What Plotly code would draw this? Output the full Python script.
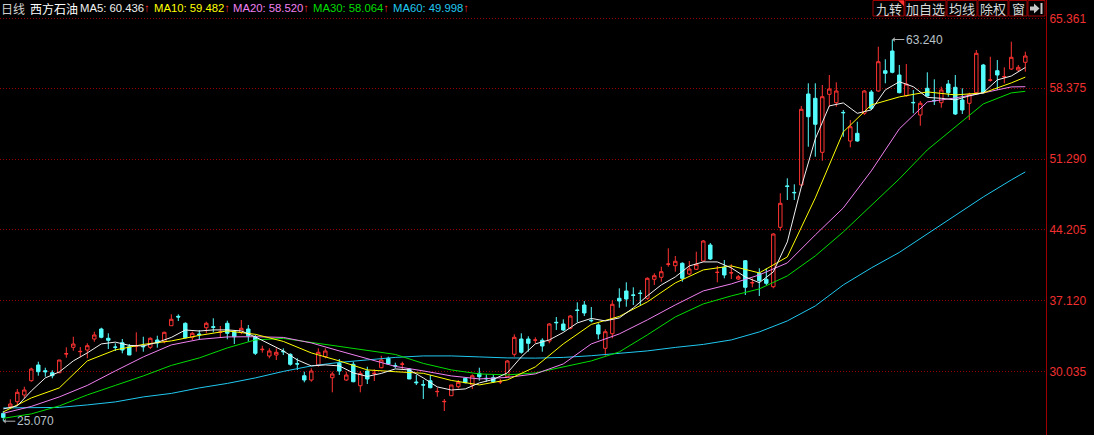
import plotly.graph_objects as go

# ---------------- data ----------------
opens = [25.85, 26.52, 27.02, 27.69, 29.12, 30.69, 30.12, 29.92, 29.92, 31.79,
         32.46, 32.02, 32.19, 33.29, 34.29, 33.36, 32.49, 32.92, 32.52, 32.56,
         32.56, 32.46, 33.19, 33.02, 34.62, 35.56, 34.86, 33.46, 33.79, 34.42,
         34.52, 33.95, 34.86, 34.02, 33.96, 34.29, 33.52, 32.22, 31.59, 31.69,
         32.06, 31.76, 30.82, 29.62, 29.19, 30.69, 31.52, 29.42, 30.86, 29.19,
         30.76, 28.62, 30.09, 29.82, 30.42, 31.36, 30.62, 30.76, 30.29, 28.99,
         28.72, 29.12, 28.02, 27.02, 27.62, 28.52, 29.36, 28.69, 29.86, 29.36,
         29.42, 29.00, 29.52, 31.76, 33.29, 33.29, 33.17, 33.16, 33.09, 34.96,
         34.79, 34.36, 36.19, 36.69, 35.16, 34.69, 32.36, 33.82, 37.36, 38.09,
         37.70, 37.88, 37.36, 39.26, 39.46, 40.76, 40.62, 40.86, 39.79, 40.26,
         41.09, 42.69, 39.94, 40.46, 39.90, 39.29, 41.12, 38.90, 39.86, 39.26,
         38.52, 44.46, 48.60, 47.95, 48.69, 57.79, 57.36, 51.96, 57.76, 56.92,
         55.95, 53.09, 53.86, 55.86, 57.99, 58.09, 60.12, 62.09, 59.69, 57.62,
         56.95, 55.69, 58.36, 57.15, 56.92, 58.79, 58.46, 57.19, 56.86, 57.92,
         60.69, 59.15, 60.12, 59.50, 60.29, 60.19, 60.96]
highs = [26.10, 27.26, 28.29, 28.52, 30.42, 31.02, 30.42, 30.16, 31.19, 32.46,
         33.52, 32.49, 32.86, 34.02, 34.42, 33.86, 32.86, 33.29, 32.79, 33.96,
         33.52, 33.46, 33.62, 34.02, 35.76, 35.76, 34.96, 34.02, 34.19, 35.02,
         35.36, 34.59, 35.12, 34.19, 35.19, 34.69, 33.69, 32.62, 32.36, 32.36,
         32.36, 31.86, 31.36, 30.02, 30.36, 32.36, 32.36, 30.02, 31.29, 30.02,
         31.02, 30.09, 30.52, 30.26, 31.62, 31.52, 30.92, 31.02, 30.36, 29.69,
         29.19, 29.69, 28.42, 27.29, 28.69, 29.19, 29.42, 29.76, 30.42, 29.76,
         29.69, 29.29, 31.19, 33.76, 33.86, 33.56, 33.46, 33.36, 34.89, 35.49,
         35.26, 35.69, 36.96, 37.09, 36.49, 34.86, 34.26, 37.16, 38.36, 38.96,
         38.46, 38.19, 39.46, 39.86, 40.52, 42.36, 41.59, 40.96, 41.09, 42.02,
         43.19, 42.89, 40.59, 41.19, 40.76, 39.69, 41.19, 39.36, 40.36, 40.36,
         43.86, 47.86, 49.36, 48.76, 56.59, 58.86, 58.86, 58.69, 59.69, 58.96,
         56.19, 55.19, 55.02, 58.19, 58.19, 62.52, 61.26, 63.24, 60.69, 60.79,
         58.19, 57.09, 59.96, 59.26, 58.52, 59.19, 59.69, 58.36, 57.92, 62.19,
         60.80, 61.52, 61.19, 60.46, 63.02, 60.69, 62.02]
lows = [25.07, 26.36, 26.69, 27.36, 29.02, 29.62, 29.52, 29.36, 29.86, 31.42,
        32.12, 31.46, 31.36, 33.02, 33.36, 32.29, 32.09, 31.86, 31.69, 32.02,
        32.02, 32.29, 32.42, 32.86, 34.62, 35.09, 33.36, 33.19, 33.19, 33.86,
        33.96, 33.42, 33.26, 32.79, 33.76, 33.02, 31.69, 31.92, 31.36, 31.19,
        31.69, 30.62, 30.19, 28.96, 29.02, 30.52, 31.36, 27.96, 29.69, 29.09,
        28.96, 27.96, 28.79, 29.09, 30.36, 30.69, 30.36, 30.26, 29.29, 28.69,
        27.29, 28.36, 27.52, 26.09, 27.62, 28.36, 28.86, 28.29, 29.12, 29.02,
        28.92, 28.79, 29.52, 31.52, 31.82, 32.02, 32.86, 32.02, 32.86, 34.19,
        34.09, 34.26, 34.96, 35.59, 34.96, 33.26, 31.62, 33.36, 36.42, 36.52,
        36.69, 36.59, 37.20, 38.69, 39.02, 40.52, 40.02, 39.02, 39.69, 40.19,
        40.99, 41.19, 38.96, 39.36, 39.29, 39.19, 37.69, 38.46, 37.59, 38.69,
        38.36, 44.12, 47.19, 47.19, 48.52, 52.52, 51.52, 51.12, 56.52, 56.52,
        53.52, 52.46, 53.02, 55.69, 56.19, 58.02, 58.86, 59.86, 57.86, 57.52,
        55.86, 54.62, 57.52, 56.69, 56.42, 57.52, 55.69, 55.79, 55.19, 57.86,
        57.86, 59.02, 58.19, 58.86, 60.19, 60.02, 60.02]
closes = [25.45, 26.79, 27.96, 28.19, 30.29, 30.02, 30.02, 29.62, 31.19, 31.82,
          32.79, 32.05, 32.62, 33.69, 33.46, 33.16, 32.46, 32.19, 31.69, 32.59,
          32.52, 33.36, 32.89, 33.96, 35.26, 35.49, 33.42, 33.86, 33.72, 34.86,
          34.46, 33.99, 33.86, 33.52, 34.36, 33.62, 31.86, 32.26, 32.09, 31.96,
          32.02, 30.76, 30.79, 29.19, 30.09, 31.96, 32.09, 29.79, 30.09, 29.69,
          29.02, 29.86, 29.29, 29.86, 31.19, 30.79, 30.59, 30.79, 29.29, 28.92,
          28.69, 28.42, 28.05, 27.05, 28.69, 28.96, 28.92, 29.62, 29.52, 29.32,
          29.02, 29.02, 31.09, 33.46, 31.96, 32.86, 33.19, 32.59, 34.79, 34.92,
          34.19, 35.59, 36.15, 35.89, 35.12, 33.79, 34.02, 36.76, 37.09, 37.29,
          37.66, 37.85, 39.36, 39.62, 40.02, 40.79, 41.06, 39.36, 40.29, 40.76,
          43.09, 41.29, 39.96, 39.69, 39.92, 39.52, 38.46, 38.93, 39.12, 38.86,
          43.79, 46.86, 48.55, 47.92, 56.26, 55.52, 54.76, 57.52, 58.29, 58.09,
          55.92, 54.52, 53.09, 58.09, 56.36, 61.02, 59.86, 59.96, 57.92, 58.79,
          56.92, 56.86, 57.59, 57.12, 58.19, 57.92, 55.79, 56.19, 57.76, 61.86,
          57.92, 59.20, 59.69, 59.53, 61.46, 60.46, 61.59]
days = list(range(len(opens)))

# moving-average lines at selected days
ma5_days = list(range(0, 147, 2))
ma5 = [26.3, 26.6, 28.1, 29.4, 30.0, 31.1, 31.9, 32.8, 32.98, 32.65,
       32.6, 32.95, 33.45, 34.19, 34.09, 34.2, 34.2, 34.1, 33.5, 32.8,
       32.1, 31.2, 30.6, 30.7, 30.6, 29.9, 29.55, 29.85, 30.3, 30.2,
       29.4, 28.5, 28.19, 28.3, 28.9, 29.25, 29.9, 31.5, 32.8, 33.2,
       33.95, 34.9, 35.35, 35.1, 35.4, 36.4, 37.6, 38.7, 39.5, 40.6,
       41.0, 41.0, 40.4, 39.5, 38.92, 40.0, 43.0, 48.5, 53.3, 56.6,
       56.9, 55.86, 56.2, 58.2, 59.02, 58.52, 57.45, 57.36, 57.2, 57.6,
       57.92, 59.2, 59.59, 60.44]
ma_days = list(range(0, 145, 4)) + [146]
ma10 = [26.0, 27.4, 28.4, 31.1, 32.2, 32.75, 33.1, 33.65, 34.1, 33.76,
        33.05, 31.9, 31.1, 30.2, 30.02, 29.86, 29.15, 28.7, 29.2, 30.5,
        32.8, 34.75, 35.55, 37.0, 38.9, 40.2, 40.6, 39.9, 41.5, 47.4,
        54.0, 56.7, 57.5, 58.0, 57.7, 57.9, 58.9, 59.48]
ma20 = [25.86, 26.55, 27.5, 28.65, 30.1, 31.5, 32.7, 33.25, 33.5, 33.52,
        33.45, 32.9, 32.1, 31.35, 30.55, 30.1, 29.6, 29.3, 29.45, 29.8,
        30.8, 32.8, 33.8, 35.2, 36.7, 38.1, 38.8, 39.7, 40.9, 43.7,
        46.4, 50.1, 54.3, 57.0, 57.4, 57.9, 58.5, 58.52]
ma30 = [25.36, 25.8, 26.6, 27.7, 28.65, 29.6, 30.65, 31.4, 32.4, 33.2,
        33.35, 32.95, 32.6, 32.2, 31.75, 30.85, 30.2, 29.8, 29.7, 29.9,
        30.5, 31.1, 32.0, 33.7, 35.5, 36.8, 37.6, 38.3, 39.6, 41.6,
        44.0, 46.7, 49.3, 52.2, 54.5, 56.8, 57.9, 58.06]
ma60 = [26.4, 26.4, 26.45, 26.7, 27.0, 27.5, 27.85, 28.4, 28.85, 29.4,
        30.05, 30.6, 30.95, 31.2, 31.45, 31.6, 31.6, 31.5, 31.4, 31.38,
        31.45, 31.62, 31.85, 32.1, 32.45, 32.75, 33.2, 34.0, 35.1, 36.6,
        38.7, 40.4, 41.95, 43.8, 45.6, 47.5, 49.2, 50.0]

ma_names = ["MA5", "MA10", "MA20", "MA30", "MA60"]
ma_last = [60.436, 59.482, 58.520, 58.064, 49.998]
ma_colors = ["#f0f0f0", "#ffff00", "#f080f0", "#00dd00", "#20c8f0"]

tick_vals = [65.361, 58.375, 51.290, 44.205, 37.120, 30.035]
tick_text = ["65.361", "58.375", "51.290", "44.205", "37.120", "30.035"]

period_label = "日线"
stock_name = "西方石油"
buttons = ["九转", "加自选", "均线", "除权", "窗"]

max_day, max_price = 127, 63.24
min_day, min_price = 0, 25.07

# ---------------- figure ----------------
W, H = 1094, 435
PW = 1046  # plot area width in px

def px(x):
    return x / PW

def py(y):
    return 1 - y / H

RED = "#ff3232"
CYAN = "#54fcfc"
FONT = "Liberation Sans, Noto Sans CJK SC, sans-serif"
CJK = "Noto Sans CJK SC, sans-serif"

fig = go.Figure()
fig.add_trace(go.Candlestick(
    x=days, open=opens, high=highs, low=lows, close=closes,
    increasing=dict(line=dict(color=RED, width=1), fillcolor="#000000"),
    decreasing=dict(line=dict(color=CYAN, width=1), fillcolor=CYAN),
    whiskerwidth=0, hoverinfo="skip", showlegend=False))

for xs, ys, col in [(ma_days, ma60, ma_colors[4]), (ma_days, ma30, ma_colors[3]),
                    (ma_days, ma20, ma_colors[2]), (ma_days, ma10, ma_colors[1]),
                    (ma5_days, ma5, ma_colors[0])]:
    fig.add_trace(go.Scatter(x=xs, y=ys, mode="lines",
                             line=dict(color=col, width=1),
                             hoverinfo="skip", showlegend=False))

annotations = []
shapes = []

# header
annotations.append(dict(xref="paper", yref="paper", x=px(0), y=py(8), xanchor="left",
                        yanchor="middle", text=period_label, showarrow=False,
                        font=dict(family=CJK, size=12, color="#d0d0d0"), borderpad=0))
annotations.append(dict(xref="paper", yref="paper", x=px(29), y=py(8), xanchor="left",
                        yanchor="middle", text=stock_name, showarrow=False,
                        font=dict(family=CJK, size=12, color="#ffffff"), borderpad=0))
hdr_x = [79, 153, 232, 312, 392]
for name, val, col, hx in zip(ma_names, ma_last, ma_colors, hdr_x):
    annotations.append(dict(
        xref="paper", yref="paper", x=px(hx), y=py(8), xanchor="left", yanchor="middle",
        text=f"{name}: {val:.3f}<span style='color:{RED}'>↑</span>", showarrow=False,
        font=dict(family=FONT, size=11.3, color=col), borderpad=0))

# toolbar buttons
btn_edges = [(873, 904), (905, 946), (947, 977), (978, 1008), (1009, 1027), (1028, 1045)]
for (x0, x1) in btn_edges:
    shapes.append(dict(type="rect", xref="paper", yref="paper",
                       x0=px(x0), x1=px(x1), y0=py(16), y1=py(0.5),
                       line=dict(color="#a00000", width=1), fillcolor="#000000", layer="above"))
for label, (x0, x1) in zip(buttons, btn_edges[:5]):
    annotations.append(dict(xref="paper", yref="paper", x=px((x0 + x1) / 2), y=py(8),
                            xanchor="center", yanchor="middle", text=label, showarrow=False,
                            font=dict(family=CJK, size=13, color="#d8d8d8"), borderpad=0))
# red corner mark on first button
shapes.append(dict(type="path", xref="paper", yref="paper",
                   path=f"M {px(898)},{py(0.5)} L {px(904)},{py(0.5)} L {px(904)},{py(6)} Z",
                   fillcolor=RED, line=dict(width=0), layer="above"))
# arrow-to-end icon
shapes.append(dict(type="path", xref="paper", yref="paper",
                   path=(f"M {px(1030)},{py(6.5)} L {px(1034)},{py(6.5)} L {px(1034)},{py(3.5)} "
                         f"L {px(1039.5)},{py(8.5)} L {px(1034)},{py(13.5)} L {px(1034)},{py(10.5)} "
                         f"L {px(1030)},{py(10.5)} Z"),
                   fillcolor="#c8c8c8", line=dict(width=0), layer="above"))
shapes.append(dict(type="rect", xref="paper", yref="paper",
                   x0=px(1040.5), x1=px(1042.5), y0=py(14), y1=py(3),
                   fillcolor="#c8c8c8", line=dict(width=0), layer="above"))

# max / min labels
for d, p in [(max_day, max_price), (min_day, min_price)]:
    annotations.append(dict(x=d, y=p, xref="x", yref="y", text=f"{p:.3f}",
                            showarrow=True, ax=32, ay=0, arrowhead=1, arrowsize=0.8,
                            arrowwidth=1, arrowcolor="#b0b0b0", standoff=0,
                            font=dict(family=FONT, size=12, color="#b8c0c8")))

fig.update_layout(
    width=W, height=H, margin=dict(l=0, r=W - PW, t=0, b=0),
    paper_bgcolor="#000000", plot_bgcolor="#000000", showlegend=False,
    xaxis=dict(range=[-0.4714, 148.957], showgrid=False, zeroline=False,
               showticklabels=False, rangeslider=dict(visible=False), showline=False),
    yaxis=dict(range=[23.691, 67.191], side="right", tickvals=tick_vals, ticktext=tick_text,
               showgrid=True, gridcolor="#960000", griddash="1px,2px", gridwidth=1,
               zeroline=False, showline=True, linecolor="#a00000", linewidth=1,
               ticks="", tickfont=dict(family=FONT, size=12, color="#f03030")),
    annotations=annotations, shapes=shapes,
)

fig.write_html("out.html", config={"displayModeBar": False},
               post_script="document.body.style.margin='0';document.body.style.background='#000';")
